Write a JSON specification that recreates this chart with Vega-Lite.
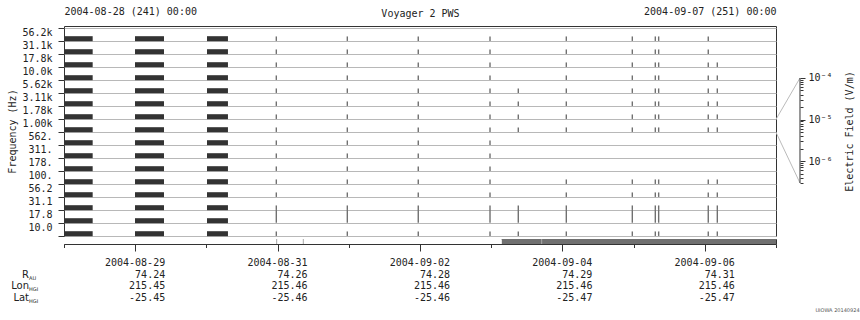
{
"$schema": "https://vega.github.io/schema/vega-lite/v6.json",
"background": "white",
"padding": {"left": 7, "top": 5, "right": 5, "bottom": 5},
"config": {
  "font": "DejaVu Sans Mono",
  "view": {"stroke": "#333333", "strokeWidth": 1},
  "axis": {"labelFont": "DejaVu Sans Mono", "labelFontSize": 10, "labelColor": "#222222", "titleFont": "DejaVu Sans Mono", "titleFontSize": 10, "titleFontWeight": "normal", "titleColor": "#222222", "tickColor": "#333333", "domainColor": "#333333", "grid": false},
  "text": {"font": "DejaVu Sans Mono", "color": "#222222"}
},
"title": {"text": "UIOWA 20140924", "orient": "bottom", "anchor": "end", "frame": "bounds", "fontSize": 5, "font": "DejaVu Sans", "fontWeight": "normal", "color": "#555555", "offset": 4, "dx": 5},
"datasets": {
  "bars": [
    {"t0":"2004-08-28T00:00","t1":"2004-08-28T09:40","c":0},{"t0":"2004-08-28T00:00","t1":"2004-08-28T09:40","c":1},{"t0":"2004-08-28T00:00","t1":"2004-08-28T09:40","c":2},{"t0":"2004-08-28T00:00","t1":"2004-08-28T09:40","c":3},
    {"t0":"2004-08-28T00:00","t1":"2004-08-28T09:40","c":4},{"t0":"2004-08-28T00:00","t1":"2004-08-28T09:40","c":5},{"t0":"2004-08-28T00:00","t1":"2004-08-28T09:40","c":6},{"t0":"2004-08-28T00:00","t1":"2004-08-28T09:40","c":7},
    {"t0":"2004-08-28T00:00","t1":"2004-08-28T09:40","c":8},{"t0":"2004-08-28T00:00","t1":"2004-08-28T09:40","c":9},{"t0":"2004-08-28T00:00","t1":"2004-08-28T09:40","c":10},{"t0":"2004-08-28T00:00","t1":"2004-08-28T09:40","c":11},
    {"t0":"2004-08-28T00:00","t1":"2004-08-28T09:40","c":12},{"t0":"2004-08-28T00:00","t1":"2004-08-28T09:40","c":13},{"t0":"2004-08-28T00:00","t1":"2004-08-28T09:40","c":14},{"t0":"2004-08-28T00:00","t1":"2004-08-28T09:40","c":15},
    {"t0":"2004-08-28T23:56","t1":"2004-08-29T09:42","c":0},{"t0":"2004-08-28T23:56","t1":"2004-08-29T09:42","c":1},{"t0":"2004-08-28T23:56","t1":"2004-08-29T09:42","c":2},{"t0":"2004-08-28T23:56","t1":"2004-08-29T09:42","c":3},
    {"t0":"2004-08-28T23:56","t1":"2004-08-29T09:42","c":4},{"t0":"2004-08-28T23:56","t1":"2004-08-29T09:42","c":5},{"t0":"2004-08-28T23:56","t1":"2004-08-29T09:42","c":6},{"t0":"2004-08-28T23:56","t1":"2004-08-29T09:42","c":7},
    {"t0":"2004-08-28T23:56","t1":"2004-08-29T09:42","c":8},{"t0":"2004-08-28T23:56","t1":"2004-08-29T09:42","c":9},{"t0":"2004-08-28T23:56","t1":"2004-08-29T09:42","c":10},{"t0":"2004-08-28T23:56","t1":"2004-08-29T09:42","c":11},
    {"t0":"2004-08-28T23:56","t1":"2004-08-29T09:42","c":12},{"t0":"2004-08-28T23:56","t1":"2004-08-29T09:42","c":13},{"t0":"2004-08-28T23:56","t1":"2004-08-29T09:42","c":14},{"t0":"2004-08-28T23:56","t1":"2004-08-29T09:42","c":15},
    {"t0":"2004-08-30T00:12","t1":"2004-08-30T07:16","c":0},{"t0":"2004-08-30T00:12","t1":"2004-08-30T07:16","c":1},{"t0":"2004-08-30T00:12","t1":"2004-08-30T07:16","c":2},{"t0":"2004-08-30T00:12","t1":"2004-08-30T07:16","c":3},
    {"t0":"2004-08-30T00:12","t1":"2004-08-30T07:16","c":4},{"t0":"2004-08-30T00:12","t1":"2004-08-30T07:16","c":5},{"t0":"2004-08-30T00:12","t1":"2004-08-30T07:16","c":6},{"t0":"2004-08-30T00:12","t1":"2004-08-30T07:16","c":7},
    {"t0":"2004-08-30T00:12","t1":"2004-08-30T07:16","c":8},{"t0":"2004-08-30T00:12","t1":"2004-08-30T07:16","c":9},{"t0":"2004-08-30T00:12","t1":"2004-08-30T07:16","c":10},{"t0":"2004-08-30T00:12","t1":"2004-08-30T07:16","c":11},
    {"t0":"2004-08-30T00:12","t1":"2004-08-30T07:16","c":12},{"t0":"2004-08-30T00:12","t1":"2004-08-30T07:16","c":13},{"t0":"2004-08-30T00:12","t1":"2004-08-30T07:16","c":14},{"t0":"2004-08-30T00:12","t1":"2004-08-30T07:16","c":15}
  ],
  "spk": [
    {"t":"2004-08-30T23:34","c":0},{"t":"2004-08-30T23:34","c":1},{"t":"2004-08-30T23:34","c":2},{"t":"2004-08-30T23:34","c":3},{"t":"2004-08-30T23:34","c":4},{"t":"2004-08-30T23:34","c":5},{"t":"2004-08-30T23:34","c":6},{"t":"2004-08-30T23:34","c":7},
    {"t":"2004-08-30T23:34","c":8},{"t":"2004-08-30T23:34","c":9},{"t":"2004-08-30T23:34","c":10},{"t":"2004-08-30T23:34","c":11},{"t":"2004-08-30T23:34","c":12},{"t":"2004-08-30T23:34","c":13},{"t":"2004-08-30T23:34","c":14},{"t":"2004-08-30T23:34","c":15},
    {"t":"2004-08-31T23:30","c":0},{"t":"2004-08-31T23:30","c":1},{"t":"2004-08-31T23:30","c":2},{"t":"2004-08-31T23:30","c":3},{"t":"2004-08-31T23:30","c":4},{"t":"2004-08-31T23:30","c":5},{"t":"2004-08-31T23:30","c":6},{"t":"2004-08-31T23:30","c":7},
    {"t":"2004-08-31T23:30","c":8},{"t":"2004-08-31T23:30","c":9},{"t":"2004-08-31T23:30","c":10},{"t":"2004-08-31T23:30","c":11},{"t":"2004-08-31T23:30","c":12},{"t":"2004-08-31T23:30","c":13},{"t":"2004-08-31T23:30","c":14},{"t":"2004-08-31T23:30","c":15},
    {"t":"2004-09-01T23:25","c":0},{"t":"2004-09-01T23:25","c":1},{"t":"2004-09-01T23:25","c":2},{"t":"2004-09-01T23:25","c":3},{"t":"2004-09-01T23:25","c":4},{"t":"2004-09-01T23:25","c":5},{"t":"2004-09-01T23:25","c":6},{"t":"2004-09-01T23:25","c":7},
    {"t":"2004-09-01T23:25","c":8},{"t":"2004-09-01T23:25","c":9},{"t":"2004-09-01T23:25","c":10},{"t":"2004-09-01T23:25","c":11},{"t":"2004-09-01T23:25","c":12},{"t":"2004-09-01T23:25","c":13},{"t":"2004-09-01T23:25","c":14},{"t":"2004-09-01T23:25","c":15},
    {"t":"2004-09-02T23:36","c":0},{"t":"2004-09-02T23:36","c":1},{"t":"2004-09-02T23:36","c":2},{"t":"2004-09-02T23:36","c":3},{"t":"2004-09-02T23:36","c":4},{"t":"2004-09-02T23:36","c":5},{"t":"2004-09-02T23:36","c":6},{"t":"2004-09-02T23:36","c":7},
    {"t":"2004-09-02T23:36","c":8},{"t":"2004-09-02T23:36","c":9},{"t":"2004-09-02T23:36","c":10},{"t":"2004-09-02T23:36","c":11},{"t":"2004-09-02T23:36","c":12},{"t":"2004-09-02T23:36","c":13},{"t":"2004-09-02T23:36","c":14},{"t":"2004-09-02T23:36","c":15},
    {"t":"2004-09-03T09:08","c":0},{"t":"2004-09-03T09:08","c":1},{"t":"2004-09-03T09:08","c":2},{"t":"2004-09-03T09:08","c":8},{"t":"2004-09-03T09:08","c":9},{"t":"2004-09-03T09:08","c":10},{"t":"2004-09-03T09:08","c":11},
    {"t":"2004-09-04T01:19","c":0},{"t":"2004-09-04T01:19","c":1},{"t":"2004-09-04T01:19","c":2},{"t":"2004-09-04T01:19","c":3},{"t":"2004-09-04T01:19","c":4},{"t":"2004-09-04T01:19","c":8},{"t":"2004-09-04T01:19","c":9},
    {"t":"2004-09-04T01:19","c":10},{"t":"2004-09-04T01:19","c":11},{"t":"2004-09-04T01:19","c":12},{"t":"2004-09-04T01:19","c":13},{"t":"2004-09-04T01:19","c":14},{"t":"2004-09-04T01:19","c":15},
    {"t":"2004-09-04T23:34","c":0},{"t":"2004-09-04T23:34","c":1},{"t":"2004-09-04T23:34","c":2},{"t":"2004-09-04T23:34","c":3},{"t":"2004-09-04T23:34","c":4},{"t":"2004-09-04T23:34","c":8},{"t":"2004-09-04T23:34","c":9},
    {"t":"2004-09-04T23:34","c":10},{"t":"2004-09-04T23:34","c":11},{"t":"2004-09-04T23:34","c":12},{"t":"2004-09-04T23:34","c":13},{"t":"2004-09-04T23:34","c":14},{"t":"2004-09-04T23:34","c":15},
    {"t":"2004-09-05T07:19","c":0},{"t":"2004-09-05T07:19","c":1},{"t":"2004-09-05T07:19","c":2},{"t":"2004-09-05T07:19","c":3},{"t":"2004-09-05T07:19","c":4},{"t":"2004-09-05T07:19","c":8},{"t":"2004-09-05T07:19","c":9},
    {"t":"2004-09-05T07:19","c":10},{"t":"2004-09-05T07:19","c":11},{"t":"2004-09-05T07:19","c":12},{"t":"2004-09-05T07:19","c":13},{"t":"2004-09-05T07:19","c":14},{"t":"2004-09-05T07:19","c":15},
    {"t":"2004-09-05T08:27","c":0},{"t":"2004-09-05T08:27","c":1},{"t":"2004-09-05T08:27","c":2},{"t":"2004-09-05T08:27","c":3},{"t":"2004-09-05T08:27","c":4},{"t":"2004-09-05T08:27","c":8},{"t":"2004-09-05T08:27","c":9},
    {"t":"2004-09-05T08:27","c":10},{"t":"2004-09-05T08:27","c":11},{"t":"2004-09-05T08:27","c":12},{"t":"2004-09-05T08:27","c":13},{"t":"2004-09-05T08:27","c":14},{"t":"2004-09-05T08:27","c":15},
    {"t":"2004-09-06T01:10","c":0},{"t":"2004-09-06T01:10","c":1},{"t":"2004-09-06T01:10","c":2},{"t":"2004-09-06T01:10","c":3},{"t":"2004-09-06T01:10","c":4},{"t":"2004-09-06T01:10","c":8},{"t":"2004-09-06T01:10","c":9},
    {"t":"2004-09-06T01:10","c":10},{"t":"2004-09-06T01:10","c":11},{"t":"2004-09-06T01:10","c":12},{"t":"2004-09-06T01:10","c":13},{"t":"2004-09-06T01:10","c":14},{"t":"2004-09-06T01:10","c":15},
    {"t":"2004-09-06T04:13","c":0},{"t":"2004-09-06T04:13","c":1},{"t":"2004-09-06T04:13","c":2},{"t":"2004-09-06T04:13","c":3},{"t":"2004-09-06T04:13","c":4},{"t":"2004-09-06T04:13","c":8},{"t":"2004-09-06T04:13","c":9},
    {"t":"2004-09-06T04:13","c":10},{"t":"2004-09-06T04:13","c":11},{"t":"2004-09-06T04:13","c":12},{"t":"2004-09-06T04:13","c":13}
  ],
  "seg": [
    {"t0":"2004-08-28T00:00","t1":"2004-09-03T03:35","mode":"off"},
    {"t0":"2004-09-03T03:35","t1":"2004-09-07T00:00","mode":"on"}
  ],
  "segb": [
    {"t":"2004-08-30T23:41"},{"t":"2004-08-31T08:40"},{"t":"2004-09-03T17:01"}
  ],
  "eph": [
    {"t":"2004-08-29T00:00","d":"2004-08-29","R":"74.24","Lon":"215.45","Lat":"-25.45"},
    {"t":"2004-08-31T00:00","d":"2004-08-31","R":"74.26","Lon":"215.46","Lat":"-25.46"},
    {"t":"2004-09-02T00:00","d":"2004-09-02","R":"74.28","Lon":"215.46","Lat":"-25.46"},
    {"t":"2004-09-04T00:00","d":"2004-09-04","R":"74.29","Lon":"215.46","Lat":"-25.47"},
    {"t":"2004-09-06T00:00","d":"2004-09-06","R":"74.31","Lon":"215.46","Lat":"-25.47"}
  ],
  "sub": [
    {"key":"R","s":"AU"},{"key":"Lon","s":"HGI"},{"key":"Lat","s":"HGI"}
  ]
},
"spacing": 3,
"bounds": "flush",
"resolve": {"scale": {"x": "independent", "y": "independent", "color": "independent"}},
"vconcat": [
  {
    "width": 712, "height": 210,
    "layer": [
      {"encoding": {
         "y": {"field": "c", "type": "quantitative",
               "scale": {"domain": [-0.023, 16.13], "nice": false, "zero": false, "padding": 0},
               "axis": {"orient": "left", "values": [0,1,2,3,4,5,6,7,8,9,10,11,12,13,14,15,16], "tickCount": 17,
                        "grid": true, "gridColor": "#b8b8b8", "gridWidth": 1, "tickSize": 6, "labelPadding": 6, "labelOffset": 4.5,
                        "labelOverlap": false, "domain": false,
                        "labelExpr": "['','10.0','17.8','31.1','56.2','100.','178.','311.','562.','1.00k','1.78k','3.11k','5.62k','10.0k','17.8k','31.1k','56.2k'][round(datum.value)]",
                        "title": "Frequency (Hz)"}}
       },
       "layer": [
        {"data": {"name": "bars"},
         "mark": {"type": "bar", "orient": "horizontal", "size": 5, "yOffset": -2, "color": "#333333"},
         "encoding": {
           "x": {"field": "t0", "type": "temporal",
                 "scale": {"domain": [{"year":2004,"month":8,"date":28},{"year":2004,"month":9,"date":7}], "padding": 0},
                 "axis": {"orient": "top", "values": [{"year":2004,"month":8,"date":28},{"year":2004,"month":9,"date":2},{"year":2004,"month":9,"date":7}],
                          "labelFlush": true, "labelOverlap": false, "ticks": false, "tickSize": 0, "domain": false, "grid": false,
                          "labelPadding": {"condition": {"test": "date(datum.value) == 2", "value": 8}, "value": 10},
                          "labelExpr": "date(datum.value) == 2 ? 'Voyager 2 PWS' : timeFormat(datum.value, '%Y-%m-%d (%j) %H:%M')",
                          "title": null}},
           "x2": {"field": "t1"}
         }},
        {"data": {"name": "spk"},
         "transform": [{"filter": "datum.c != 1"}],
         "mark": {"type": "tick", "orient": "vertical", "size": 4.5, "thickness": 1.4, "yOffset": -2, "color": "#333333"},
         "encoding": {"x": {"field": "t", "type": "temporal"}}},
        {"data": {"name": "spk"},
         "transform": [{"filter": "datum.c == 1"}],
         "mark": {"type": "tick", "orient": "vertical", "size": 12.5, "thickness": 1.4, "yOffset": -6.2, "color": "#333333"},
         "encoding": {"x": {"field": "t", "type": "temporal"}}}
      ]},
      {"layer": [
        {"data": {"values": [{"e0": 0.0000101, "e1": 0.0001}, {"e0": 0.0000049, "e1": 0.000000295}]},
         "mark": {"type": "rule", "color": "#bbbbbb"},
         "encoding": {
           "x": {"datum": 0, "type": "quantitative", "scale": {"domain": [-29.667, 0], "nice": false, "zero": false, "padding": 0}, "axis": null},
           "x2": {"datum": 1},
           "y": {"field": "e0", "type": "quantitative",
                 "scale": {"type": "log", "domain": [0.0000000156, 0.00179], "nice": false, "padding": 0},
                 "axis": {"orient": "right", "offset": 24, "domain": false, "grid": false,
                          "values": [0.0001,0.00009,0.00008,0.00007,0.00006,0.00005,0.00004,0.00003,0.00002,0.00001,0.000009,0.000008,0.000007,0.000006,0.000005,0.000004,0.000003,0.000002,0.000001,0.0000009,0.0000008,0.0000007,0.0000006,0.0000005,0.0000004,0.0000003],
                          "tickSize": {"condition": {"test": "datum.value == 0.0001 || datum.value == 0.00001 || datum.value == 0.000001", "value": 5}, "value": 3},
                          "labelPadding": 3, "labelOverlap": false,
                          "labelExpr": "datum.value == 0.0001 ? '10⁻⁴' : datum.value == 0.00001 ? '10⁻⁵' : datum.value == 0.000001 ? '10⁻⁶' : ''",
                          "title": "Electric Field (V/m)", "titleAngle": 270, "titlePadding": 22}},
           "y2": {"field": "e1"}
         }},
        {"data": {"values": [{"lo": 0.000000295, "hi": 0.0001}]},
         "mark": {"type": "rule", "color": "#333333"},
         "encoding": {"x": {"datum": 1, "type": "quantitative"}, "y": {"field": "lo", "type": "quantitative"}, "y2": {"field": "hi"}}}
      ]}
    ],
    "resolve": {"scale": {"x": "independent", "y": "independent"}}
  },
  {
    "width": 712, "height": 5,
    "layer": [
      {"data": {"name": "seg"},
       "mark": {"type": "rect"},
       "encoding": {
         "x": {"field": "t0", "type": "temporal",
               "scale": {"domain": [{"year":2004,"month":8,"date":28},{"year":2004,"month":9,"date":7}]},
               "axis": {"orient": "bottom", "labels": false, "domain": false, "grid": false, "title": null, "tickColor": "#333333",
                        "values": [{"year":2004,"month":8,"date":28},{"year":2004,"month":8,"date":29},{"year":2004,"month":8,"date":30},{"year":2004,"month":8,"date":31},{"year":2004,"month":9,"date":1},{"year":2004,"month":9,"date":2},{"year":2004,"month":9,"date":3},{"year":2004,"month":9,"date":4},{"year":2004,"month":9,"date":5},{"year":2004,"month":9,"date":6},{"year":2004,"month":9,"date":7}],
                        "tickSize": {"condition": {"test": "(month(datum.value) == 7) == (date(datum.value) % 2 == 1)", "value": 7}, "value": 3.5}}},
         "x2": {"field": "t1"},
         "color": {"field": "mode", "type": "nominal", "scale": {"domain": ["off", "on"], "range": ["#ffffff", "#707070"]}, "legend": null}
       }},
      {"data": {"name": "segb"},
       "mark": {"type": "rule", "color": "#a8a8a8"},
       "encoding": {"x": {"field": "t", "type": "temporal"}}}
    ]
  },
  {
    "width": 712, "height": 57,
    "view": {"stroke": null},
    "layer": [
      {"data": {"name": "eph"},
       "transform": [{"fold": ["d", "R", "Lon", "Lat"], "as": ["key", "val"]}],
       "mark": {"type": "text", "align": "right", "dx": 30, "fontSize": 10},
       "encoding": {
         "x": {"field": "t", "type": "temporal", "scale": {"domain": [{"year":2004,"month":8,"date":28},{"year":2004,"month":9,"date":7}]}, "axis": null},
         "y": {"field": "key", "type": "nominal",
               "scale": {"type": "band", "domain": ["d", "R", "Lon", "Lat"], "paddingInner": 0, "paddingOuter": 0.434, "align": 1},
               "axis": {"orient": "left", "ticks": false, "domain": false, "labelPadding": 35.5, "labelFont": "DejaVu Sans", "labelFontSize": 10,
                        "labelExpr": "datum.value == 'd' ? '' : datum.value", "title": null}},
         "text": {"field": "val", "type": "nominal"}
       }},
      {"data": {"name": "sub"},
       "mark": {"type": "text", "align": "left", "dx": -35, "dy": 3, "fontSize": 5, "font": "DejaVu Sans"},
       "encoding": {
         "x": {"datum": {"year":2004,"month":8,"date":28}, "type": "temporal"},
         "y": {"field": "key", "type": "nominal"},
         "text": {"field": "s", "type": "nominal"}
       }}
    ]
  }
]
}
